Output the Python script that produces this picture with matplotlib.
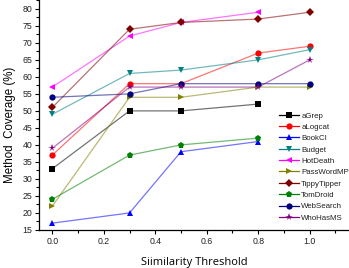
import matplotlib
matplotlib.use("Agg")
import matplotlib.pyplot as plt
from matplotlib.ticker import MultipleLocator
from matplotlib.lines import Line2D

plt.rcParams['font.family'] = ['Liberation Sans', 'DejaVu Sans']

thresholds_full = [0.0, 0.3, 0.5, 0.8, 1.0]
thresholds_short = [0.0, 0.3, 0.5, 0.8]

aGrep = [33, 50, 50, 52]
aLogcat = [37, 58, 58, 67, 69]
BookCI = [17, 20, 38, 41]
Budget = [49, 61, 62, 65, 68]
HotDeath = [57, 72, 76, 79]
PassWordMP = [22, 54, 54, 57, 57]
TippyTipper = [51, 74, 76, 77, 79]
TomDroid = [24, 37, 40, 42]
WebSearch = [54, 55, 58, 58, 58]
WhoHasMS = [39, 57, 57, 57, 65]

series = [
    ("aGrep", aGrep, "#000000", "s"),
    ("aLogcat", aLogcat, "#ff0000", "o"),
    ("BookCI", BookCI, "#0000ff", "^"),
    ("Budget", Budget, "#008080", "v"),
    ("HotDeath", HotDeath, "#ff00ff", "<"),
    ("PassWordMP", PassWordMP, "#808000", ">"),
    ("TippyTipper", TippyTipper, "#800000", "D"),
    ("TomDroid", TomDroid, "#008000", "p"),
    ("WebSearch", WebSearch, "#000080", "o"),
    ("WhoHasMS", WhoHasMS, "#800080", "*"),
]

def msize(mk):
    if mk == "*":
        return 5.5
    if mk == "D":
        return 4
    return 4.5

fig = plt.figure(figsize=(3.49, 2.68), dpi=100)
ax = fig.add_axes([0.113, 0.142, 0.885, 0.858])

for name, vals, col, mk in series:
    xs = thresholds_full if len(vals) == 5 else thresholds_short
    ax.plot(xs, vals, color=col, alpha=0.55, lw=0.9, zorder=2)
    ax.plot(xs, vals, linestyle="none", marker=mk, color=col, ms=msize(mk),
            markeredgewidth=0, zorder=3)

handles = []
for name, vals, col, mk in series:
    handles.append(Line2D([0], [0], color=col, lw=0.9, marker=mk, ms=msize(mk),
                          markeredgewidth=0, markerfacecolor=col))

leg = fig.legend(handles, [s[0] for s in series], loc="upper left",
                 bbox_to_anchor=(279 / 349, 1 - 112.0 / 268), frameon=False,
                 prop={"family": "Liberation Sans", "size": 5.7},
                 handlelength=2.5, handletextpad=0.3,
                 labelspacing=0.48, borderpad=0, borderaxespad=0)
for t in leg.get_texts():
    t.set_color("#222222")

ax.set_xlim(-0.05, 1.15)
ax.set_ylim(15, 82.6)
ax.xaxis.set_minor_locator(MultipleLocator(0.1))
ax.yaxis.set_major_locator(MultipleLocator(5))
ax.yaxis.set_minor_locator(MultipleLocator(2.5))
ax.set_xticks([0.0, 0.2, 0.4, 0.6, 0.8, 1.0])
ax.set_xticklabels(["0.0", "0.2", "0.4", "0.6", "0.8", "1.0"])
ax.tick_params(axis="both", which="major", labelsize=6.3, length=3, width=0.8,
               direction="out", pad=2, labelcolor="#222222")
ax.tick_params(axis="both", which="minor", length=2, width=0.8, direction="out")

for s in ["top", "right"]:
    ax.spines[s].set_visible(False)
for s in ["left", "bottom"]:
    ax.spines[s].set_linewidth(0.9)

ax.set_ylabel("Method  Coverage (%)", fontsize=8.3, family="Liberation Sans")
ax.yaxis.set_label_coords(-0.075, 0.457)
ax.set_xlabel("Siimilarity Threshold", fontsize=8, family="Open Sans", labelpad=8)

fig.savefig("out.png", dpi=100)
